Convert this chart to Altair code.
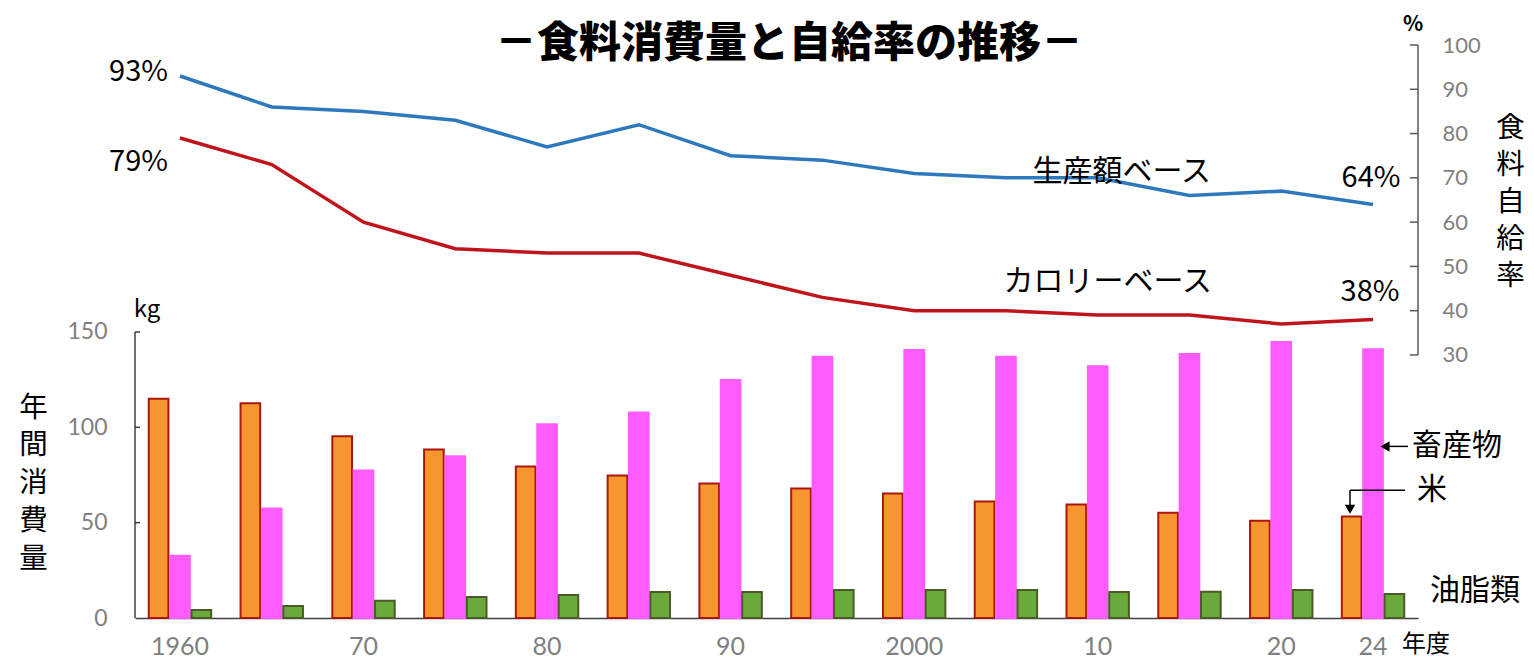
import altair as alt
import pandas as pd

# ---------------- data ----------------
years = [1960, 1965, 1970, 1975, 1980, 1985, 1990, 1995, 2000, 2005, 2010, 2015, 2020, 2024]
categories = ["米", "畜産物", "油脂類"]
rice = [115.0, 112.6, 95.3, 88.4, 79.5, 74.7, 70.5, 67.9, 65.3, 61.1, 59.5, 55.2, 51.0, 53.2]
livestock = [32.6, 57.4, 77.4, 84.8, 101.6, 107.8, 124.8, 137.0, 140.5, 137.0, 132.0, 138.4, 144.7, 141.0]
oils = [4.2, 6.3, 9.0, 11.0, 12.0, 13.7, 13.7, 14.7, 14.7, 14.7, 13.7, 13.8, 14.7, 12.6]

series_names = ["生産額ベース", "カロリーベース"]
prod_rate = [93, 86, 85, 83, 77, 82, 75, 74, 71, 70, 70, 66, 67, 64]
cal_rate = [79, 73, 60, 54, 53, 53, 48, 43, 40, 40, 39, 39, 37, 38]

x_tick_values = [1960, 1970, 1980, 1990, 2000, 2010, 2020, 2024]
x_tick_labels = ["1960", "70", "80", "90", "2000", "10", "20", "24"]
left_ticks = [0, 50, 100, 150]
right_ticks = [30, 40, 50, 60, 70, 80, 90, 100]

title_text = "－食料消費量と自給率の推移－"

# ---------------- styling ----------------
W, H = 1283, 573
JP = "Noto Sans CJK JP"
NUM = "Lato"
GRAY = "#808080"
AXIS_LINE = "#404040"
fills = ["#F7962F", "#FF5CFF", "#6AAA3C"]
strokes = ["#A81810", "#FF5CFF", "#4B5A28"]
line_colors = ["#2E78BE", "#C0141C"]

bar_df = pd.DataFrame(
    [{"year": y, "cat": c, "kg": v}
     for c, vals in zip(categories, [rice, livestock, oils])
     for y, v in zip(years, vals)]
)
line_df = pd.DataFrame(
    [{"year": y, "series": s, "rate": v}
     for s, vals in zip(series_names, [prod_rate, cal_rate])
     for y, v in zip(years, vals)]
)
one = pd.DataFrame({"k": [0]})

xscale = alt.Scale(type="band", paddingInner=0.32, paddingOuter=0.15)
bar_y = alt.Scale(domain=[0, 300.5], nice=False, zero=True)
line_y = alt.Scale(domain=[-29.4, 100], nice=False, zero=False)

label_expr = " : ".join(
    f"datum.value == {v} ? '{l}'" for v, l in zip(x_tick_values, x_tick_labels)
) + " : ''"

x_axis = alt.Axis(values=x_tick_values, labelExpr=label_expr, title=None,
                  ticks=False, domainColor=AXIS_LINE, domainWidth=1.5,
                  labelColor=GRAY, labelFontSize=25, labelFont=NUM,
                  labelPadding=16, labelAngle=0, grid=False, orient="bottom")


def xenc():
    return alt.X("year:O", scale=xscale, axis=x_axis)


# ---------------- bar layer ----------------
bars = alt.Chart(bar_df).mark_bar(strokeWidth=2).encode(
    x=xenc(),
    xOffset=alt.XOffset("cat:N", sort=categories,
                        scale=alt.Scale(domain=categories, paddingInner=0.08)),
    y=alt.Y("kg:Q", scale=bar_y,
            axis=alt.Axis(values=left_ticks, domain=False, ticks=False, grid=False,
                          labelColor=GRAY, labelFontSize=23, labelFont=NUM,
                          labelPadding=28,
                          title=list("年間消費量"), titleAngle=0, titleX=-102,
                          titleY=348, titleBaseline="top", titleAlign="center",
                          titleFontSize=28.5, titleLineHeight=37.8, titleFont=JP,
                          titleFontWeight="normal", titleColor="black")),
    color=alt.Color("cat:N", scale=alt.Scale(domain=categories, range=fills), legend=None),
    stroke=alt.Stroke("cat:N", scale=alt.Scale(domain=categories, range=strokes), legend=None),
)


def ann(year, value, text, yscale, align="center", dx=0, dy=0, size=29):
    """Text annotation anchored to a (year, value) position through the chart's scales."""
    df = pd.DataFrame({"year": [year], "v": [value], "t": [text]})
    return alt.Chart(df).mark_text(font=JP, fontSize=size, color="black", align=align,
                                   dx=dx, dy=dy).encode(
        x=xenc(),
        y=alt.Y("v:Q", scale=yscale),
        text="t:N",
    )


left_domain = alt.Chart(one).mark_rule(color=AXIS_LINE, strokeWidth=1.5).encode(
    x=alt.value(0), y=alt.datum(left_ticks[0]), y2=alt.datum(left_ticks[-1])
)
left_tick_marks = alt.Chart(pd.DataFrame({"t": left_ticks[1:]})).mark_rule(
    color=AXIS_LINE, strokeWidth=1.5).encode(
    x=alt.value(0), x2=alt.value(5), y=alt.Y("t:Q", scale=bar_y)
)
kg_text = alt.Chart(one).mark_text(text="kg", font=JP, fontSize=24, color="black",
                                   dy=-22).encode(
    x=alt.value(12), y=alt.datum(150)
)
nendo_text = ann(2024, 0, "年度", bar_y, "center", 53, 27, 24)
chiku_text = ann(2024, 90, "畜産物", bar_y, "left", 39, 0, 30)
kome_text = ann(2024, 67, "米", bar_y, "left", 44, 0, 30)
yushi_text = ann(2024, 14, "油脂類", bar_y, "left", 57, 0, 30)

# arrows
chiku_line = alt.Chart(one).mark_rule(color="black", strokeWidth=1.5).encode(
    x=alt.value(1248), x2=alt.value(1273), y=alt.datum(90)
)
chiku_head = alt.Chart(one).mark_point(shape="triangle-left", filled=True, size=110,
                                       color="black", opacity=1).encode(
    x=alt.value(1250), y=alt.datum(90)
)
kome_line_h = alt.Chart(one).mark_rule(color="black", strokeWidth=1.5).encode(
    x=alt.value(1215), x2=alt.value(1270), y=alt.datum(67)
)
kome_line_v = alt.Chart(one).mark_rule(color="black", strokeWidth=1.5).encode(
    x=alt.value(1215), y=alt.datum(67), y2=alt.datum(58)
)
kome_head = alt.Chart(one).mark_point(shape="triangle-down", filled=True, size=110,
                                      color="black", opacity=1).encode(
    x=alt.value(1215), y=alt.datum(57)
)

bar_layer = alt.layer(bars, left_domain, left_tick_marks, kg_text, nendo_text,
                      chiku_text, kome_text, yushi_text,
                      chiku_line, chiku_head, kome_line_h, kome_line_v, kome_head)

# ---------------- line layer ----------------
lines = alt.Chart(line_df).mark_line(strokeWidth=3.5).encode(
    x=xenc(),
    y=alt.Y("rate:Q", scale=line_y,
            axis=alt.Axis(orient="right", values=right_ticks, domain=False, ticks=False,
                          grid=False, labelColor=GRAY, labelFontSize=22, labelFont=NUM,
                          labelPadding=24,
                          title=list("食料自給率"), titleAngle=0, titleX=92, titleY=68,
                          titleBaseline="top", titleAlign="center", titleFontSize=28.5,
                          titleLineHeight=37.2, titleFont=JP, titleFontWeight="normal",
                          titleColor="black")),
    color=alt.Color("series:N", scale=alt.Scale(domain=series_names, range=line_colors),
                    legend=None),
)
right_domain = alt.Chart(one).mark_rule(color="#595959", strokeWidth=1.5).encode(
    x=alt.value(W), y=alt.datum(right_ticks[0]), y2=alt.datum(right_ticks[-1])
)
right_tick_marks = alt.Chart(pd.DataFrame({"t": right_ticks})).mark_rule(
    color="#595959", strokeWidth=1.5).encode(
    x=alt.value(W - 8), x2=alt.value(W), y=alt.Y("t:Q", scale=line_y)
)
pct_text = alt.Chart(one).mark_text(text="%", font=JP, fontSize=21, fontWeight="bold",
                                    color="black", dy=-20).encode(
    x=alt.value(W - 5), y=alt.datum(100)
)

lab_p0 = ann(years[0], prod_rate[0], f"{prod_rate[0]}%", line_y, "right", -12, -4)
lab_c0 = ann(years[0], cal_rate[0], f"{cal_rate[0]}%", line_y, "right", -12, 24)
lab_p1 = ann(years[-1], prod_rate[-1], f"{prod_rate[-1]}%", line_y, "center", -2, -26)
lab_c1 = ann(years[-1], cal_rate[-1], f"{cal_rate[-1]}%", line_y, "center", -3, -28)
lab_ps = ann(2010, 71.3, series_names[0], line_y, "center", 24, 0, 30)
lab_cs = ann(2010, 46.5, series_names[1], line_y, "center", 10, 0, 30)

title_mark = alt.Chart(one).mark_text(text=title_text, font=JP, fontSize=42,
                                      fontWeight=900, color="black").encode(
    x=alt.value(654), y=alt.value(-1)
)

line_layer = alt.layer(lines, right_domain, right_tick_marks, pct_text,
                       lab_p0, lab_c0, lab_p1, lab_c1, lab_ps, lab_cs, title_mark)

chart = alt.layer(bar_layer, line_layer).resolve_scale(
    y="independent", color="independent"
).properties(
    width=W, height=H,
    padding={"left": 127, "top": 37, "right": 107, "bottom": 42},
    autosize=alt.AutoSizeParams(type="none"),
    background="white",
).configure_view(strokeWidth=0).configure_axis(grid=False)

chart.save("out.html", embed_options={"renderer": "svg", "actions": False})
